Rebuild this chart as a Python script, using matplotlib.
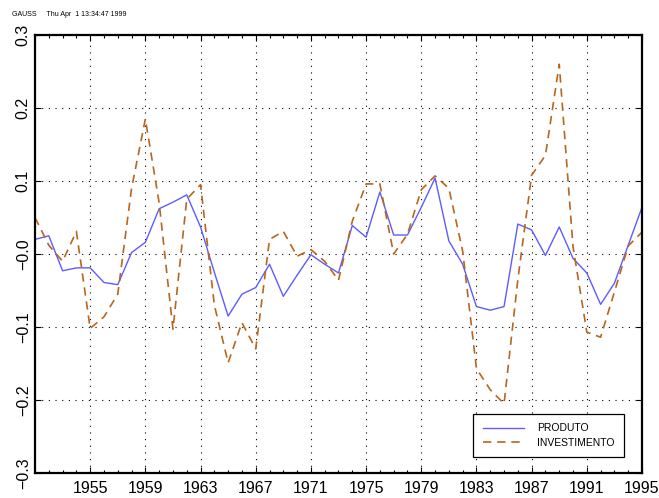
import matplotlib
matplotlib.use("Agg")
import matplotlib.pyplot as plt
from matplotlib.ticker import MultipleLocator, FixedLocator, FixedFormatter
import numpy as np

plt.rcParams['font.family'] = ['Liberation Sans', 'DejaVu Sans']

years = np.arange(1951, 1996)

produto = [0.020, 0.025, -0.023, -0.019, -0.019, -0.039, -0.042, 0.002, 0.016, 0.062,
           0.071, 0.081, 0.037, -0.025, -0.085, -0.055, -0.046, -0.014, -0.058, -0.029,
           -0.001, -0.014, -0.026, 0.039, 0.023, 0.085, 0.026, 0.026, 0.064, 0.104,
           0.018, -0.014, -0.072, -0.077, -0.072, 0.041, 0.033, -0.002, 0.037, -0.006,
           -0.026, -0.069, -0.040, 0.012, 0.064]

investimento = [0.050, 0.012, -0.010, 0.031, -0.102, -0.086, -0.055, 0.090, 0.185, 0.070,
                -0.103, 0.075, 0.095, -0.070, -0.149, -0.094, -0.130, 0.020, 0.031, -0.003,
                0.006, -0.010, -0.036, 0.045, 0.096, 0.096, 0.000, 0.027, 0.088, 0.107,
                0.090, 0.004, -0.157, -0.186, -0.205, -0.035, 0.108, 0.135, 0.260, 0.010,
                -0.107, -0.114, -0.052, 0.011, 0.030]

xticks = [1955, 1959, 1963, 1967, 1971, 1975, 1979, 1983, 1987, 1991, 1995]
yticks = [-0.3, -0.2, -0.1, 0.0, 0.1, 0.2, 0.3]
ylabels = ['\u22120.3', '\u22120.2', '\u22120.1', '\u22120.0', '0.1', '0.2', '0.3']

fig = plt.figure(figsize=(6.59, 4.98), dpi=100)
ax = fig.add_axes([35/659, 1-473/498, 607/659, 438/498])

ax.plot(years, produto, color='#5c5cff', lw=1.0, label='PRODUTO')
ax.plot(years, investimento, color='#b8661e', lw=1.2, linestyle=(0, (5, 3.5)),
        label='INVESTIMENTO')

ax.set_xlim(1951, 1995)
ax.set_ylim(-0.3, 0.3)

ax.xaxis.set_major_locator(FixedLocator(xticks))
ax.xaxis.set_minor_locator(MultipleLocator(1))
ax.yaxis.set_major_locator(FixedLocator(yticks))
ax.yaxis.set_major_formatter(FixedFormatter(ylabels))

ax.tick_params(which='both', direction='in', top=True, right=True, width=0.8)
ax.tick_params(which='major', length=4)
ax.tick_params(which='minor', length=2.5)
ax.tick_params(axis='x', labelsize=11.5, pad=6)
ax.tick_params(axis='y', labelsize=11.5, pad=3)
for lab in ax.get_yticklabels():
    lab.set_rotation(90)
    lab.set_va('center')

ax.grid(True, which='major', color='black', linestyle=(0, (1, 5)), lw=0.8)

for s in ax.spines.values():
    s.set_linewidth(1.6)

leg = ax.legend(loc='lower right', bbox_to_anchor=(0.970, 0.0365), borderaxespad=0,
                fontsize=7.5, handlelength=4.0, frameon=True, fancybox=False,
                edgecolor='black', framealpha=1, borderpad=0.9, labelspacing=0.4,
                handletextpad=1.2)
leg.get_frame().set_linewidth(0.9)

fig.text(12/659, 1-14/498, 'GAUSS     Thu Apr  1 13:34:47 1999', fontsize=5,
         va='center', ha='left')

fig.savefig('out.png', dpi=100)
